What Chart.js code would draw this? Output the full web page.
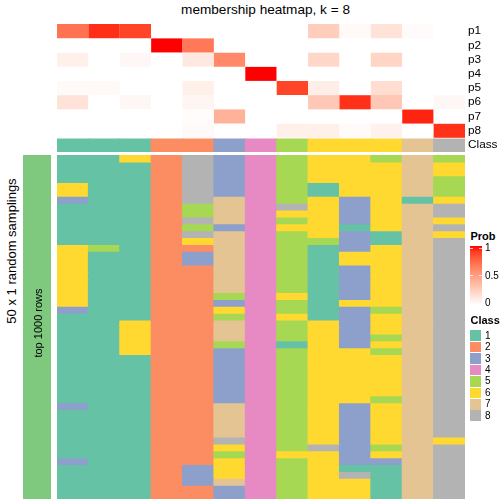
<!DOCTYPE html>
<html>
<head>
<meta charset="utf-8">
<script src="https://cdn.jsdelivr.net/npm/chart.js@4.4.1/dist/chart.umd.min.js"></script>
<style>
  body { margin: 0; background: #fff; width: 504px; height: 504px; overflow: hidden; position: relative;
         font-family: "Liberation Sans", Arial, Helvetica, sans-serif; }
  canvas { position: absolute; }
  .txt { position: absolute; white-space: nowrap; color: #000; line-height: 1; transform: translate(-50%, -50%); }
  .rot { transform: translate(-50%, -50%) rotate(-90deg); }
  .lg { position: absolute; white-space: nowrap; color: #000; line-height: 1; font-size: 10px; transform: translateY(-50%); }
</style>
</head>
<body>
<div class="txt" style="left:265.5px; top:10px; font-size:13.6px;">membership heatmap, k = 8</div>
<div class="txt rot" style="left:11px; top:250.5px; font-size:13px;">50 x 1 random samplings</div>
<div class="txt rot" style="left:37.5px; top:322.5px; font-size:11px; z-index:2;">top 1000 rows</div>

<canvas id="topChart" width="447" height="152" style="left:57px; top:12px; width:447px; height:152px;"></canvas>
<canvas id="annChart" width="28" height="344" style="left:23px; top:155px; width:28px; height:344px;"></canvas>
<canvas id="mainChart" width="408" height="344" style="left:57px; top:155px; width:408px; height:344px;"></canvas>

<div id="legend"></div>

<script>
// columns of the heatmap (13 samples)
const sampleIds = ["s1","s2","s3","s4","s5","s6","s7","s8","s9","s10","s11","s12","s13"];
const probRows = ["p1","p2","p3","p4","p5","p6","p7","p8"];

// membership probability per sample
const p1 = [0.70, 0.94, 0.88, 0, 0, 0, 0, 0, 0.26, 0.03, 0.15, 0.02, 0];
const p2 = [0, 0, 0, 1.00, 0.68, 0, 0, 0, 0, 0, 0, 0, 0];
const p3 = [0.08, 0, 0.04, 0, 0.12, 0.60, 0, 0, 0.21, 0, 0.22, 0, 0];
const p4 = [0, 0, 0, 0, 0, 0, 1.00, 0, 0, 0, 0, 0, 0];
const p5 = [0.03, 0.03, 0, 0, 0.08, 0, 0, 0.88, 0.09, 0, 0.18, 0, 0];
const p6 = [0.15, 0, 0.04, 0, 0.05, 0, 0, 0, 0.29, 0.93, 0.29, 0, 0.04];
const p7 = [0, 0, 0, 0, 0.015, 0.40, 0, 0, 0, 0, 0, 0.96, 0];
const p8 = [0, 0, 0, 0, 0.03, 0, 0, 0.08, 0.08, 0.02, 0.07, 0, 0.93];
const probs = [p1, p2, p3, p4, p5, p6, p7, p8];

// final class of each sample
const topClass = [1, 1, 1, 2, 2, 3, 4, 5, 6, 6, 6, 7, 8];

// class of each sample in the 50 random samplings, top to bottom ("c*n" = n times c)
const samplingCols = [
  "1*4 6*2 3 1*6 6*9 3 1*13 3 1*7 3 1*5",
  "1*13 5 1*36",
  "6 1*23 6*5 1*21",
  "2*50",
  "8*7 5*2 8 5 8 6 2 3*2 2*29 3*3 2*2",
  "3*6 7*4 3 7*9 5 3 6 5 7*3 5 3*8 7*5 8 6 5 6*3 7 3*2",
  "4*50",
  "5*7 8 6 5 6 5*9 6 5*2 6 5*3 1 5*15 6 5*6",
  "6*4 1*2 6*6 5 1*11 6*18 8 6*7",
  "6*6 3*4 1 3*3 6*2 3*5 6 3*6 6*8 3*9 1 8 6*3",
  "5 6*10 1*2 6*9 5 6*3 5 6 5 6*6 5 6*6 5 6 3 1*5",
  "7*6 1 7*43",
  "5 6*2 5*3 6 8*2 6 8 6 8*29 6 8*8"
];

const classLabels = ["1","2","3","4","5","6","7","8"];
const classColors = {1:"#66C2A5", 2:"#FC8D62", 3:"#8DA0CB", 4:"#E78AC3",
                     5:"#A6D854", 6:"#FFD92F", 7:"#E5C494", 8:"#B3B3B3"};
const annColor = "#7FC97F";
const font = '"Liberation Sans", Arial, Helvetica, sans-serif';

function expand(spec) {
  let out = [];
  spec.split(" ").forEach(t => {
    let [c, n] = t.split("*");
    for (let i = 0; i < (n ? +n : 1); i++) out.push(+c);
  });
  return out;
}
const cols = samplingCols.map(expand);
const samplings = [];
for (let r = 0; r < 50; r++) samplings.push(cols.map(col => col[r]));

// white -> red in LAB space
function toLin(c) { c /= 255; return c <= 0.04045 ? c / 12.92 : Math.pow((c + 0.055) / 1.055, 2.4); }
function fromLin(c) { let v = c <= 0.0031308 ? 12.92 * c : 1.055 * Math.pow(c, 1 / 2.4) - 0.055; return Math.round(Math.max(0, Math.min(1, v)) * 255); }
function rgb2lab(rgb) {
  let [R, G, B] = rgb.map(toLin);
  let X = (0.4124 * R + 0.3576 * G + 0.1805 * B) / 0.95047;
  let Y = 0.2126 * R + 0.7152 * G + 0.0722 * B;
  let Z = (0.0193 * R + 0.1192 * G + 0.9505 * B) / 1.08883;
  let f = t => t > 0.008856 ? Math.cbrt(t) : 7.787 * t + 16 / 116;
  return [116 * f(Y) - 16, 500 * (f(X) - f(Y)), 200 * (f(Y) - f(Z))];
}
function lab2rgb([L, a, b]) {
  let fy = (L + 16) / 116, fx = fy + a / 500, fz = fy - b / 200;
  let fi = t => t > 0.206893 ? t * t * t : (t - 16 / 116) / 7.787;
  let X = fi(fx) * 0.95047, Y = fi(fy), Z = fi(fz) * 1.08883;
  let R = 3.2406 * X - 1.5372 * Y - 0.4986 * Z;
  let G = -0.9689 * X + 1.8758 * Y + 0.0415 * Z;
  let B = 0.0557 * X - 0.2040 * Y + 1.0570 * Z;
  return "rgb(" + fromLin(R) + "," + fromLin(G) + "," + fromLin(B) + ")";
}
const labWhite = rgb2lab([255, 255, 255]);
const labRed = rgb2lab([255, 0, 0]);
function probColor(v) {
  return lab2rgb(labWhite.map((w, i) => w + (labRed[i] - w) * v));
}

const barDefaults = {grouped: false, barPercentage: 1, categoryPercentage: 1, borderWidth: 0};
const rowLabels = [...probRows, "Class"];

new Chart(document.getElementById("topChart"), {
  type: "bar",
  data: {
    labels: sampleIds,
    datasets: [
      ...probs.map((row, i) => ({
        label: probRows[i],
        data: row.map(() => [i, i + 1]),
        backgroundColor: row.map(probColor),
        inflateAmount: 0
      })),
      {
        label: "Class",
        data: topClass.map(() => [8.08, 9]),
        backgroundColor: topClass.map(k => classColors[k]),
        inflateAmount: 0.5
      }
    ]
  },
  options: {
    responsive: false,
    animation: false,
    layout: {padding: {top: 12, bottom: 12, left: 0, right: 0}},
    datasets: {bar: barDefaults},
    plugins: {legend: {display: false}, tooltip: {enabled: false}},
    scales: {
      x: {display: false},
      y: {
        position: "right",
        min: 0, max: 9, reverse: true,
        grid: {display: false, drawTicks: false, tickLength: 0},
        border: {display: false},
        afterBuildTicks: axis => { axis.ticks = rowLabels.map((_, i) => ({value: i + 0.5})); },
        afterFit: axis => { axis.width = 39; },
        ticks: {
          padding: 3, color: "#000", autoSkip: false,
          font: {family: font, size: 11.8},
          callback: (v, i) => rowLabels[i]
        }
      }
    }
  }
});

new Chart(document.getElementById("mainChart"), {
  type: "bar",
  data: {
    labels: sampleIds,
    datasets: samplings.map((row, r) => ({
      label: "sampling " + (r + 1),
      data: row.map(() => [r, r + 1]),
      backgroundColor: row.map(k => classColors[k])
    }))
  },
  options: {
    responsive: false,
    animation: false,
    layout: {padding: 0},
    datasets: {bar: {...barDefaults, inflateAmount: 0.5}},
    plugins: {legend: {display: false}, tooltip: {enabled: false}},
    scales: {
      x: {display: false},
      y: {display: false, min: 0, max: 50, reverse: true}
    }
  }
});

new Chart(document.getElementById("annChart"), {
  type: "bar",
  data: {
    labels: ["top 1000 rows"],
    datasets: [{data: [[0, 1]], backgroundColor: annColor}]
  },
  options: {
    responsive: false,
    animation: false,
    layout: {padding: 0},
    datasets: {bar: barDefaults},
    plugins: {legend: {display: false}, tooltip: {enabled: false}},
    scales: {
      x: {display: false},
      y: {display: false, min: 0, max: 1, reverse: true}
    }
  }
});

// legends
const lg = document.getElementById("legend");
let html = '<div class="lg" style="left:470.5px;top:236px;font-size:11px;font-weight:bold;">Prob</div>';
let stops = [];
for (let i = 0; i <= 10; i++) stops.push(probColor(1 - i / 10) + " " + (i * 10) + "%");
html += '<div style="position:absolute;left:470px;top:246px;width:12px;height:59px;background:linear-gradient(to bottom,' + stops.join(",") + ');"></div>';
[248.3, 275.8].forEach(y => {
  html += '<div style="position:absolute;left:470px;top:' + (y - 0.5) + 'px;width:3px;height:1px;background:#fff;opacity:0.7"></div>';
  html += '<div style="position:absolute;left:479px;top:' + (y - 0.5) + 'px;width:3px;height:1px;background:#fff;opacity:0.7"></div>';
});
[["1", 248.3], ["0.5", 275.8], ["0", 303.3]].forEach(([t, y]) => {
  html += '<div class="lg" style="left:485px;top:' + y + 'px;">' + t + '</div>';
});
html += '<div class="lg" style="left:470.5px;top:320px;font-size:11px;font-weight:bold;">Class</div>';
classLabels.forEach((t, i) => {
  let y = 335.7 + 11.43 * i;
  html += '<div style="position:absolute;left:470px;top:' + (y - 5.3) + 'px;width:11px;height:10.6px;background:' + classColors[i + 1] + ';"></div>';
  html += '<div class="lg" style="left:485px;top:' + y + 'px;">' + t + '</div>';
});
lg.innerHTML = html;
</script>
</body>
</html>
